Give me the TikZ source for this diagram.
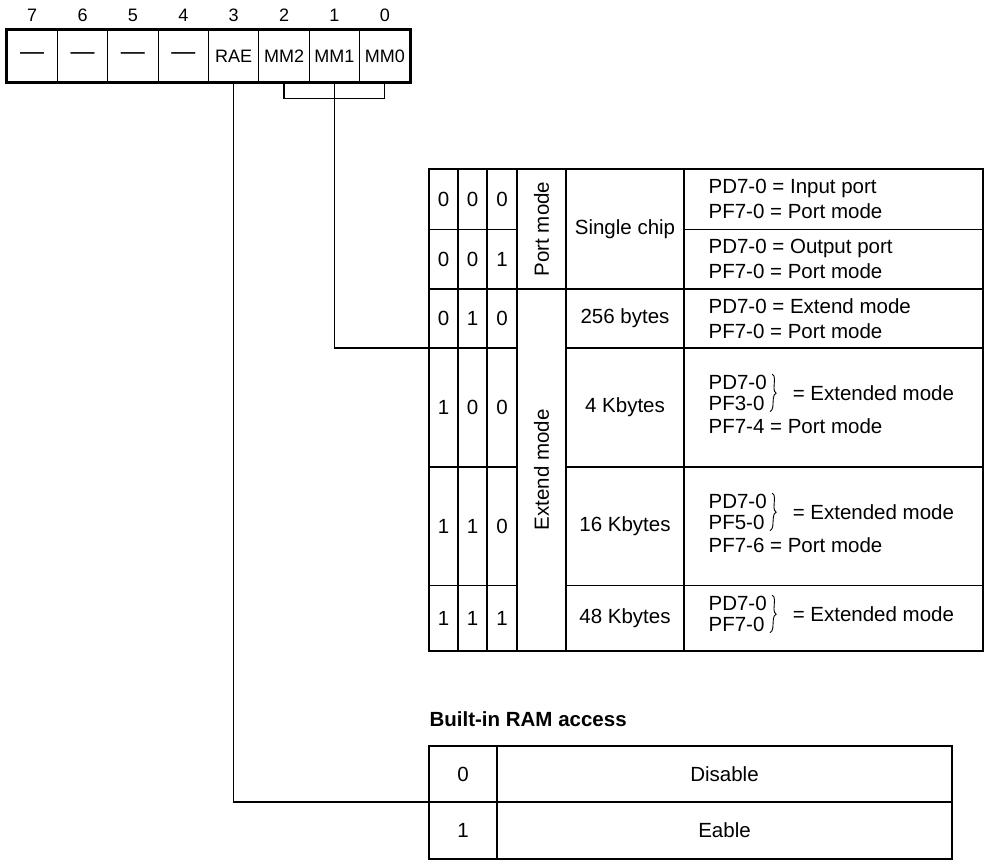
\documentclass[tikz,border=0pt]{standalone}
\usepackage{fontspec}
\setmainfont{Liberation Sans}
\usetikzlibrary{positioning,calc,decorations.pathreplacing}
\newcommand\tfont{\fontsize{20.5}{25}\selectfont}
\newcommand\rfont{\fontsize{18}{20}\selectfont}
\newcommand\rdash{{\fontsize{24}{24}\selectfont ---}}

\begin{document}
\begin{tikzpicture}[x=1pt,y=-1pt,line width=1.2pt,every node/.style={font=\tfont,inner sep=0pt},
  cell/.style={draw,minimum width=50.375pt,minimum height=52pt,font=\rfont},
  frame/.style={line width=2pt},rowline/.style={line width=1.7pt},desc/.style={anchor=west,align=left},
  brc/.style={decorate,decoration={brace,amplitude=5pt},line width=0.9pt}]
\useasboundingbox (0,0) rectangle (985,863);
\foreach \b/\t [count=\k from 0] in {7/\rdash,6/\rdash,5/\rdash,4/\rdash,3/RAE,2/MM2,1/MM1,0/MM0} {
  \node[cell] (r\b) at (32.19+50.375*\k,56) {\t};
  \node[font=\rfont,above=7pt of r\b] (n\b) {\b};
}
\draw[frame] (r7.north west) rectangle (r0.south east);

\foreach \x in {458,487,517,566,684} \draw (\x,169) -- (\x,650.5);
\draw (429,229.5) -- (517,229.5) (684,229.5) -- (983,229.5); \draw[rowline] (429,289) -- (983,289);
\foreach \y in {348,467,585.5} \draw[rowline] (429,\y) -- (517,\y) (566,\y) -- (983,\y);
\draw[frame] (429,169) rectangle (983,650.5);
\foreach \a/\b/\c/\y [count=\n] in {0/0/0/199.25,0/0/1/259.25,0/1/0/318.5,1/0/0/407.5,1/1/0/526.25,1/1/1/618} {
  \node (m\n-2) at (443.5,\y) {\a}; \node (m\n-1) at (472.5,\y) {\b}; \node (m\n-0) at (502,\y) {\c};
}
\node[rotate=90] (portmode) at (541.5,229) {Port mode};
\node[rotate=90] (extmode) at (541.5,469.75) {Extend mode};
\node (single) at (625,229) {Single chip}; \node (k256) at (625,318.5) {256 bytes};
\node (k4) at (625,407.5) {4 Kbytes}; \node (k16) at (625,526.25) {16 Kbytes}; \node (k48) at (625,618) {48 Kbytes};
\node[desc] (in0) at (708,199.25) {PD7-0 = Input port\\PF7-0 = Port mode};
\node[desc] (out1) at (708,259.25) {PD7-0 = Output port\\PF7-0 = Port mode};
\node[desc] (ext2) at (708,318.5) {PD7-0 = Extend mode\\PF7-0 = Port mode};
\foreach \r/\ya/\f/\p in {4/382/PF3-0/PF7-4,16/501/PF5-0/PF7-6} {
  \node[desc] (pd\r) at (708,\ya) {PD7-0}; \node[desc,below=6pt of pd\r.south west,anchor=north west] (pf\r) {\f};
  \node[desc,below=6pt of pf\r.south west,anchor=north west] (pm\r) {\p\ = Port mode};
  \draw[brc] ([xshift=5pt]pd\r.north east) -- ([xshift=5pt]pf\r.south east);
  \node[desc] (em\r) at ([xshift=26pt]$(pd\r.east)!0.5!(pf\r.east)$) {= Extended mode};
}
\node[desc] (pd48) at (708,603) {PD7-0}; \node[desc,below=6pt of pd48.south west,anchor=north west] (pf48) {PF7-0};
\draw[brc] ([xshift=5pt]pd48.north east) -- ([xshift=5pt]pf48.south east);
\node[desc] (em48) at ([xshift=26pt]$(pd48.east)!0.5!(pf48.east)$) {= Extended mode};

\node[anchor=west,font=\tfont\bfseries] (ramtitle) at (429,719) {Built-in RAM access};
\draw (497,746) -- (497,859); \draw[rowline] (429,802) -- (952,802);
\draw[frame] (429,746) rectangle (952,859);
\node (rae0) at (463,774) {0}; \node (dis) at (724.5,774) {Disable};
\node (rae1) at (463,830.5) {1}; \node (ena) at (724.5,830.5) {Eable};

\coordinate (t1in) at (429,348); \coordinate (t2in) at (429,802);
\draw (r2.south) -- ++(0,16) -| (r0.south);
\draw (r1.south) |- (t1in);
\draw (r3.south) |- (t2in);
\end{tikzpicture}
\end{document}
